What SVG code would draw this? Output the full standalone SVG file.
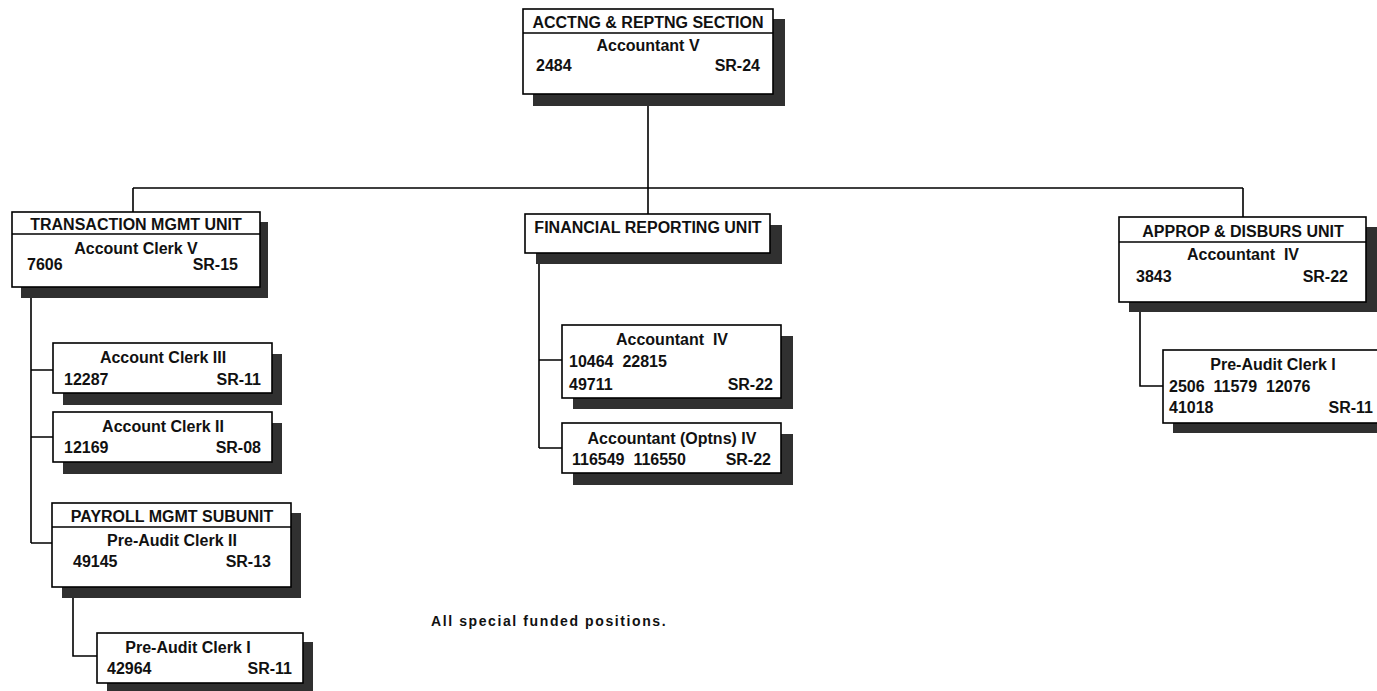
<svg xmlns="http://www.w3.org/2000/svg" width="1377" height="691" viewBox="0 0 1377 691">
<style>
.sh{fill:#303030;stroke:none}
.bx{fill:#fff;stroke:#000;stroke-width:1.6}
.dv{stroke:#000;stroke-width:1.4}
.cn{fill:none;stroke:#000;stroke-width:1.6}
text{font-family:"Liberation Sans",Arial,sans-serif;font-weight:bold;font-size:16px;fill:#111;white-space:pre}
.c{text-anchor:middle}
.r{text-anchor:end}
.note{font-size:14px;letter-spacing:1.6px}
</style>
<rect width="1377" height="691" fill="#fff"/>
<g id="connectors">
<path class="cn" d="M648 106V188M133 188H1243M133 188V212M648 188V214M1243 188V217"/>
<path class="cn" d="M31 298V543M31 370H53M31 437H53M31 543H52"/>
<path class="cn" d="M73 598V656H97"/>
<path class="cn" d="M539 264V448M539 360H562M539 448H562"/>
<path class="cn" d="M1140 312V386H1163"/>
</g>
<g id="acctng-section">
<rect class="sh" x="533" y="19" width="252" height="87"/>
<rect class="bx" x="523" y="9" width="250" height="85"/>
<line class="dv" x1="523" y1="33" x2="773" y2="33"/>
<text class="c" x="648" y="28">ACCTNG &amp; REPTNG SECTION</text>
<text class="c" x="648" y="51">Accountant V</text>
<text x="536" y="71">2484</text>
<text class="r" x="760" y="71">SR-24</text>
</g>
<g id="transaction-unit">
<rect class="sh" x="21" y="222" width="247" height="76"/>
<rect class="bx" x="12" y="212" width="248" height="75"/>
<line class="dv" x1="12" y1="234" x2="260" y2="234"/>
<text class="c" x="136" y="230">TRANSACTION MGMT UNIT</text>
<text class="c" x="136" y="254">Account Clerk V</text>
<text x="27" y="270">7606</text>
<text class="r" x="238" y="270">SR-15</text>
</g>
<g id="account-clerk-3">
<rect class="sh" x="63" y="354" width="219" height="51"/>
<rect class="bx" x="53" y="343" width="219" height="50"/>
<text class="c" x="163" y="363">Account Clerk III</text>
<text x="64" y="385">12287</text>
<text class="r" x="261" y="385">SR-11</text>
</g>
<g id="account-clerk-2">
<rect class="sh" x="63" y="423" width="219" height="51"/>
<rect class="bx" x="53" y="412" width="219" height="50"/>
<text class="c" x="163" y="432">Account Clerk II</text>
<text x="64" y="453">12169</text>
<text class="r" x="261" y="453">SR-08</text>
</g>
<g id="payroll-subunit">
<rect class="sh" x="62" y="513" width="239" height="85"/>
<rect class="bx" x="52" y="503" width="239" height="84"/>
<line class="dv" x1="52" y1="527" x2="291" y2="527"/>
<text class="c" x="172" y="522">PAYROLL MGMT SUBUNIT</text>
<text class="c" x="172" y="546">Pre-Audit Clerk II</text>
<text x="73" y="567">49145</text>
<text class="r" x="271" y="567">SR-13</text>
</g>
<g id="pre-audit-clerk-1-payroll">
<rect class="sh" x="107" y="642" width="206" height="52"/>
<rect class="bx" x="97" y="633" width="206" height="50"/>
<text class="c" x="188" y="653">Pre-Audit Clerk I</text>
<text x="107" y="674">42964</text>
<text class="r" x="292" y="674">SR-11</text>
</g>
<g id="financial-reporting-unit">
<rect class="sh" x="536" y="225" width="246" height="39"/>
<rect class="bx" x="525" y="214" width="245" height="39"/>
<text class="c" x="648" y="233">FINANCIAL REPORTING UNIT</text>
</g>
<g id="accountant-4-fin">
<rect class="sh" x="573" y="336" width="220" height="73"/>
<rect class="bx" x="562" y="325" width="219" height="73"/>
<text class="c" x="672" y="345">Accountant  IV</text>
<text x="569" y="367">10464  22815</text>
<text x="569" y="390">49711</text>
<text class="r" x="773" y="390">SR-22</text>
</g>
<g id="accountant-optns-4">
<rect class="sh" x="573" y="434" width="220" height="51"/>
<rect class="bx" x="562" y="423" width="219" height="50"/>
<text class="c" x="672" y="444">Accountant (Optns) IV</text>
<text x="572" y="465">116549  116550</text>
<text class="r" x="771" y="465">SR-22</text>
</g>
<g id="approp-disburs-unit">
<rect class="sh" x="1129" y="227" width="248" height="85"/>
<rect class="bx" x="1119" y="217" width="247" height="85"/>
<line class="dv" x1="1119" y1="242" x2="1366" y2="242"/>
<text class="c" x="1243" y="237">APPROP &amp; DISBURS UNIT</text>
<text class="c" x="1243" y="260">Accountant  IV</text>
<text x="1136" y="282">3843</text>
<text class="r" x="1348" y="282">SR-22</text>
</g>
<g id="pre-audit-clerk-1-approp">
<rect class="sh" x="1173" y="360" width="220" height="73"/>
<rect class="bx" x="1163" y="350" width="220" height="73"/>
<text class="c" x="1273" y="370">Pre-Audit Clerk I</text>
<text x="1169" y="392">2506  11579  12076</text>
<text x="1169" y="413">41018</text>
<text class="r" x="1373" y="413">SR-11</text>
</g>
<text class="note" x="431" y="626">All special funded positions.</text>
</svg>
